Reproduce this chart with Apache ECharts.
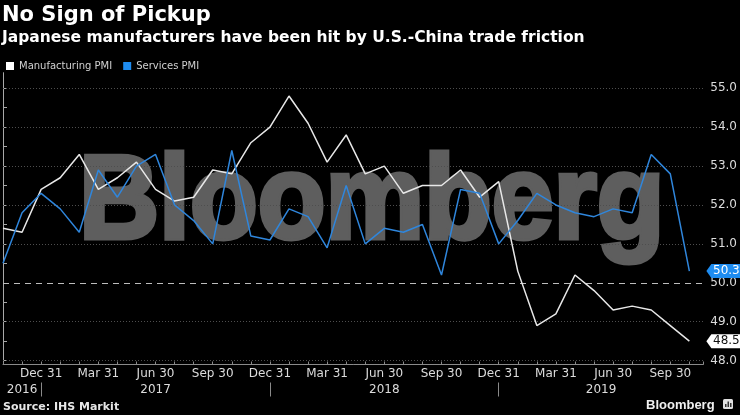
<!DOCTYPE html>
<html><head><meta charset="utf-8">
<script src="https://cdn.jsdelivr.net/npm/echarts@6/dist/echarts.min.js"></script>
<style>html,body{margin:0;padding:0;background:#000}#c{width:740px;height:415px}</style>
</head><body><div id="c"></div>
<script>
// Monthly readings, Oct 2016 .. Oct 2019
const months = ['2016-10','2016-11','2016-12',
  '2017-01','2017-02','2017-03','2017-04','2017-05','2017-06','2017-07','2017-08','2017-09','2017-10','2017-11','2017-12',
  '2018-01','2018-02','2018-03','2018-04','2018-05','2018-06','2018-07','2018-08','2018-09','2018-10','2018-11','2018-12',
  '2019-01','2019-02','2019-03','2019-04','2019-05','2019-06','2019-07','2019-08','2019-09','2019-10'];
const manufacturing = [51.4,51.3,52.4,
  52.7,53.3,52.4,52.7,53.1,52.4,52.1,52.2,52.9,52.8,53.6,54.0,
  54.8,54.1,53.1,53.8,52.8,53.0,52.3,52.5,52.5,52.9,52.2,52.6,
  50.3,48.9,49.2,50.2,49.8,49.3,49.4,49.3,48.9,48.5];
const services = [50.5,51.8,52.3,
  51.9,51.3,52.9,52.2,53.0,53.3,52.0,51.6,51.0,53.4,51.2,51.1,
  51.9,51.7,50.9,52.5,51.0,51.4,51.3,51.5,50.2,52.4,52.3,51.0,
  51.6,52.3,52.0,51.8,51.7,51.9,51.8,53.3,52.8,50.3];
const quarterLabels = ['Dec 31','Mar 31','Jun 30','Sep 30','Dec 31','Mar 31','Jun 30','Sep 30','Dec 31','Mar 31','Jun 30','Sep 30'];
const years = ['2016','2017','2018','2019'];
const yTicks = [48,49,50,51,52,53,54,55];
const seriesNames = ['Manufacturing PMI','Services PMI'];

const FONT = '"DejaVu Sans", Verdana, sans-serif';
// first quarter-end label is Dec 2016 (month index 2)
const xLabelOf = {};
quarterLabels.forEach((t, k) => { xLabelOf[2 + 3 * k] = t; });
const yearSepIdx = [2, 14, 26];
const yearPos = [1, 8, 20, 31.37];

const chart = echarts.init(document.getElementById('c'), null, {renderer: 'canvas'});

function tag(values, color, textColor) {
  const last = values.length - 1;
  return {
    symbol: 'path://M0,7 L5,0 L36,0 L36,14 L5,14 Z',
    symbolSize: [36, 14],
    symbolKeepAspect: false,
    symbolOffset: [35, 0],
    itemStyle: {color: color},
    label: {show: true, position: 'inside', offset: [2, 0], color: textColor, fontSize: 12, fontFamily: FONT,
      formatter: p => Number(p.value).toFixed(1)},
    data: [{coord: [last, values[last]], value: values[last]}],
    animation: false
  };
}

const option = {
  backgroundColor: '#000',
  animation: false,
  graphic: [
    {type: 'text', z: -10, x: 79, y: 205, scaleX: 0.94, silent: true,
      style: {text: 'Bloomberg', font: 'bold 118px "Liberation Sans", Arial, sans-serif', fill: '#5e5e5e', stroke: '#5e5e5e', lineWidth: 5, align: 'left', verticalAlign: 'middle'}},
    {type: 'text', x: 2, y: 16, style: {text: 'No Sign of Pickup', font: 'bold 21px ' + FONT, fill: '#fff', align: 'left', verticalAlign: 'middle'}},
    {type: 'text', x: 2, y: 38, style: {text: 'Japanese manufacturers have been hit by U.S.-China trade friction', font: 'bold 15.5px ' + FONT, fill: '#fff', align: 'left', verticalAlign: 'middle'}},
    {type: 'text', x: 3, y: 407, style: {text: 'Source: IHS Markit', font: 'bold 11px ' + FONT, fill: '#e6e6e6', align: 'left', verticalAlign: 'middle'}},
    {type: 'text', x: 646, y: 405, style: {text: 'Bloomberg', font: 'bold 13px "Liberation Sans", Arial, sans-serif', fill: '#f0f0f0', align: 'left', verticalAlign: 'middle'}},
    {type: 'rect', shape: {x: 723, y: 399, width: 10, height: 10, r: 1.5}, style: {fill: '#e0e0e0'}},
    {type: 'rect', shape: {x: 725, y: 404, width: 1.5, height: 3}, style: {fill: '#333'}},
    {type: 'rect', shape: {x: 727.5, y: 401.5, width: 1.5, height: 5.5}, style: {fill: '#333'}},
    {type: 'rect', shape: {x: 730, y: 403, width: 1.5, height: 4}, style: {fill: '#333'}}
  ],
  legend: {
    left: 1, top: 56, icon: 'rect', itemWidth: 8, itemHeight: 8, itemGap: 11,
    textStyle: {color: '#d0d0d0', fontSize: 10, fontFamily: FONT},
    data: seriesNames
  },
  grid: {left: 0, right: 36, top: 72.7, bottom: 50.5, containLabel: false},
  xAxis: [
    {type: 'value', min: 0, max: 36.73, interval: 1, position: 'bottom',
      axisLine: {show: true, lineStyle: {color: '#8a8a8a', width: 1}},
      axisTick: {show: true, inside: true, length: 3, lineStyle: {color: '#8a8a8a'}},
      axisLabel: {color: '#dcdcdc', fontSize: 12, fontFamily: FONT, margin: 3,
        formatter: v => (Number.isInteger(v) && xLabelOf[v]) ? xLabelOf[v] : ''},
      splitLine: {show: false}},
    {type: 'value', min: 0, max: 36.73, position: 'bottom', offset: 18,
      axisLine: {show: false},
      axisTick: {show: true, customValues: yearSepIdx, length: 14, lineStyle: {color: '#8a8a8a'}},
      axisLabel: {color: '#dcdcdc', fontSize: 12, fontFamily: FONT, margin: 1, customValues: yearPos,
        formatter: v => { const k = yearPos.findIndex(p => Math.abs(p - v) < 0.01); return k >= 0 ? years[k] : ''; }},
      splitLine: {show: false}}
  ],
  yAxis: {
    type: 'value', position: 'right', min: 47.9, max: 55.4,
    axisLine: {show: true, lineStyle: {color: '#a8a8a8', width: 1}},
    axisTick: {show: true, length: 4, customValues: [48,48.5,49,49.5,50,50.5,51,51.5,52,52.5,53,53.5,54,54.5,55], lineStyle: {color: '#a8a8a8'}},
    axisLabel: {color: '#dcdcdc', fontSize: 12, fontFamily: FONT, margin: 7, customValues: yTicks,
      formatter: v => Number(v).toFixed(1)},
    splitLine: {show: false}
  },
  series: [
    {name: seriesNames[0], type: 'line', xAxisIndex: 0, showSymbol: false, clip: false,
      data: manufacturing.map((v, i) => [i, v]),
      lineStyle: {color: '#e8e8e8', width: 1.5}, itemStyle: {color: '#ffffff'},
      markLine: {silent: true, symbol: 'none', z: 1, label: {show: false}, animation: false,
        data: yTicks.map(v => ({yAxis: v, lineStyle: v === 50 ? {type: [6, 5], color: '#bdbdbd', width: 1} : {type: [1, 2], color: '#4e4e4e', width: 1}}))},
      markPoint: tag(manufacturing, '#ffffff', '#111111')},
    {name: seriesNames[1], type: 'line', xAxisIndex: 0, showSymbol: false, clip: false,
      data: services.map((v, i) => [i, v]),
      lineStyle: {color: '#2f86dc', width: 1.5}, itemStyle: {color: '#1e8cf0'},
      markPoint: tag(services, '#1e8cf0', '#ffffff')}
  ]
};
chart.setOption(option);
</script>
</body></html>
